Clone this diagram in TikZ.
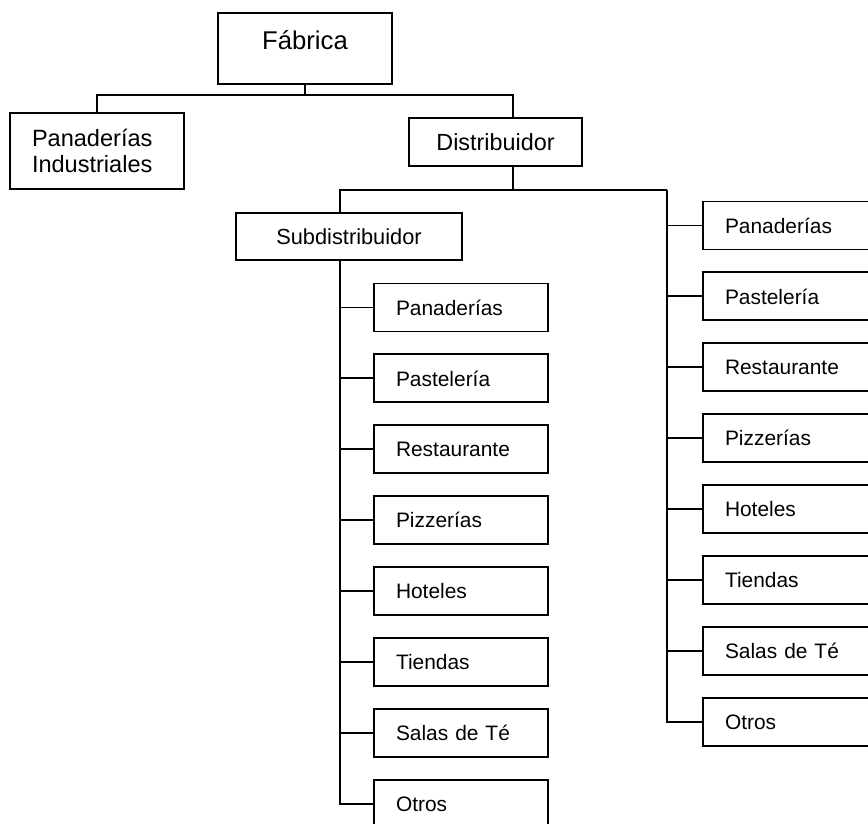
\documentclass[tikz,border=0pt]{standalone}
\usepackage{fontspec}
\setmainfont{Liberation Sans}
\usetikzlibrary{positioning}

\begin{document}
\begin{tikzpicture}[
  box/.style = {draw, line width=1.1pt, minimum width=3.48cm, inner sep=0pt},
  topbox/.style = {box, minimum height=1.42cm, font=\fontsize{14.6}{17}\selectfont, text height=11pt, text depth=10.1pt},
  midbox/.style = {box, minimum height=0.96cm, font=\fontsize{13.3}{16}\selectfont},
  leaf/.style = {box, minimum height=0.96cm, text width=2.6cm, inner xsep=0.44cm, align=left, font=\fontsize{11.9}{14}\selectfont},
  link/.style = {line width=1.1pt},
  node distance=0.42cm
]

  \clip (0,0) rectangle (17.36,-16.46);

  % Fabrica
  \node[topbox] (fab) at (6.10,-0.97) {Fábrica};

  % Second level
  \node[midbox, minimum height=1.52cm, text width=2.6cm, inner xsep=0.44cm, align=left, font=\fontsize{13.4}{15.3}\selectfont] (panind) at (1.94,-3.02) {Panaderías\\Industriales};
  \node[midbox, minimum width=3.46cm] (dist) at (9.91,-2.84) {Distribuidor};

  % Subdistribuidor
  \node[midbox, minimum width=4.52cm, minimum height=0.94cm, font=\fontsize{12.4}{15}\selectfont] (sub) at (6.98,-4.73) {Subdistribuidor};

  % Clients of the subdistribuidor
  \node[leaf] (lpan) at (9.22,-6.15) {Panaderías};
  \node[leaf, below=of lpan] (lpas) {Pastelería};
  \node[leaf, below=of lpas] (lres) {Restaurante};
  \node[leaf, below=of lres] (lpiz) {Pizzerías};
  \node[leaf, below=of lpiz] (lhot) {Hoteles};
  \node[leaf, below=of lhot] (ltie) {Tiendas};
  \node[leaf, below=of ltie] (lsal) {Salas de Té};
  \node[leaf, below=of lsal] (lotr) {Otros};

  % Clients of the distribuidor
  \node[leaf] (rpan) at (15.80,-4.51) {Panaderías};
  \node[leaf, below=of rpan] (rpas) {Pastelería};
  \node[leaf, below=of rpas] (rres) {Restaurante};
  \node[leaf, below=of rres] (rpiz) {Pizzerías};
  \node[leaf, below=of rpiz] (rhot) {Hoteles};
  \node[leaf, below=of rhot] (rtie) {Tiendas};
  \node[leaf, below=of rtie] (rsal) {Salas de Té};
  \node[leaf, below=of rsal] (rotr) {Otros};

  % Fabrica -> second level
  \coordinate (distin) at ([xshift=0.35cm]dist.north);
  \draw[link] (fab.south) -- ++(0,-0.2) -| (panind.north);
  \draw[link] (fab.south) -- ++(0,-0.2) -| (distin);

  % Distribuidor -> subdistribuidor and right column
  \coordinate (distout) at ([xshift=0.35cm]dist.south);
  \coordinate[below=0.46cm of distout] (dsplit);
  \coordinate (subin) at ([xshift=-0.18cm]sub.north);
  \draw[link] (distout) -- (dsplit) -| (subin);
  \coordinate (rtrunk) at ([xshift=-0.7cm]rpan.west);
  \coordinate (rtop) at (dsplit -| rtrunk);
  \draw[link] (dsplit) -- (rtop);
  \draw[link] (rtop) |- (rpan.west);
  \draw[link] (rtop) |- (rpas.west);
  \draw[link] (rtop) |- (rres.west);
  \draw[link] (rtop) |- (rpiz.west);
  \draw[link] (rtop) |- (rhot.west);
  \draw[link] (rtop) |- (rtie.west);
  \draw[link] (rtop) |- (rsal.west);
  \draw[link] (rtop) |- (rotr.west);

  % Subdistribuidor -> left column
  \coordinate (subout) at ([xshift=-0.18cm]sub.south);
  \draw[link] (subout) |- (lpan.west);
  \draw[link] (subout) |- (lpas.west);
  \draw[link] (subout) |- (lres.west);
  \draw[link] (subout) |- (lpiz.west);
  \draw[link] (subout) |- (lhot.west);
  \draw[link] (subout) |- (ltie.west);
  \draw[link] (subout) |- (lsal.west);
  \draw[link] (subout) |- (lotr.west);

\end{tikzpicture}
\end{document}
